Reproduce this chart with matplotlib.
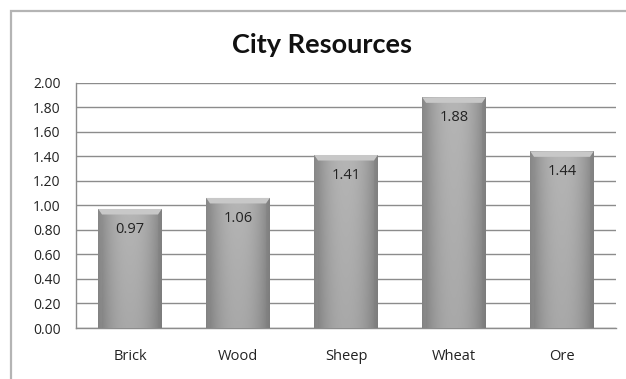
import numpy as np
import matplotlib
matplotlib.use("Agg")
import matplotlib.pyplot as plt
from matplotlib.patches import Rectangle, Polygon

categories = ["Brick", "Wood", "Sheep", "Wheat", "Ore"]
values = [0.97, 1.06, 1.41, 1.88, 1.44]
yticks = [0.00, 0.20, 0.40, 0.60, 0.80, 1.00, 1.20, 1.40, 1.60, 1.80, 2.00]
title = "City Resources"

W, H = 626, 379
fig = plt.figure(figsize=(W / 100, H / 100), dpi=100)
fig.patch.set_facecolor("white")

# chart frame (runs off the right and bottom edge)
frame = Rectangle((11 / W, -0.05), 1.0, (H - 11) / H + 0.05, transform=fig.transFigure,
                  fill=False, edgecolor="#b4b4b4", linewidth=1.6)
fig.patches.append(frame)

left, right = 76 / W, 616 / W
bottom, top = 1 - 328 / H, 1 - 82.6 / H
ax = fig.add_axes([left, bottom, right - left, top - bottom])
ax.set_xlim(-0.5, len(categories) - 0.5)
ax.set_ylim(0, 2.0)

for s in ["top", "right"]:
    ax.spines[s].set_visible(False)
ax.spines["left"].set_color("#8c8c8c")
ax.spines["bottom"].set_color("#8c8c8c")
ax.spines["left"].set_linewidth(1.0)
ax.spines["bottom"].set_linewidth(1.0)

ax.set_yticks(yticks)
ax.set_yticklabels([f"{v:.2f}" for v in yticks], fontsize=10, color="#222222",
                   family="Open Sans")
ax.set_xticks(range(len(categories)))
ax.set_xticklabels(categories, fontsize=10.5, color="#222222", family="Open Sans")
ax.tick_params(axis="both", length=0)
ax.tick_params(axis="y", pad=11)
ax.tick_params(axis="x", pad=15)
ax.yaxis.grid(True, color="#8c8c8c", linewidth=1.0)
ax.set_axisbelow(True)

# bar shading: dark edges, light centre, slightly darker toward the base
nx, ny = 64, 200
xs = np.linspace(-1, 1, nx)
horiz = 1 - 0.28 * np.abs(xs) ** 2.2
ys = np.linspace(0, 1, ny)[:, None]
vert = 0.93 + 0.07 * ys
shade = np.clip((0.71 * horiz[None, :]) * vert, 0, 1)
img = np.dstack([shade, shade, shade])

bar_w = 0.59
bars = ax.bar(range(len(categories)), values, width=bar_w, color="#a6a6a6",
              edgecolor="none", zorder=2)
for b, v in zip(bars, values):
    x0 = b.get_x()
    im = ax.imshow(img, extent=[x0, x0 + bar_w, 0, v], origin="lower",
                   aspect="auto", zorder=3, interpolation="bicubic")
    im.set_clip_path(b)
    # bevelled top edge
    bev_h = 0.045
    bev_x = 0.035
    ax.add_patch(Polygon([[x0, v], [x0 + bar_w, v], [x0 + bar_w - bev_x, v - bev_h],
                          [x0 + bev_x, v - bev_h]], closed=True,
                         facecolor="#c8c8c8", edgecolor="none", zorder=4))
    ax.add_patch(Polygon([[x0, v], [x0 + bev_x, v - bev_h], [x0 + bev_x, 0],
                          [x0, 0]], closed=True,
                         facecolor="#909090", edgecolor="none", alpha=0.45, zorder=4))
    ax.add_patch(Polygon([[x0 + bar_w, v], [x0 + bar_w - bev_x, v - bev_h],
                          [x0 + bar_w - bev_x, 0], [x0 + bar_w, 0]], closed=True,
                         facecolor="#808080", edgecolor="none", alpha=0.45, zorder=4))
    ax.text(b.get_x() + bar_w / 2, v - 0.165, f"{v:.2f}", ha="center", va="center",
            fontsize=10.5, color="#222222", family="Open Sans", zorder=5)

ax.set_xlim(-0.5, len(categories) - 0.5)
ax.set_ylim(0, 2.0)

fig.text(0.515, 1 - 45 / H, title, ha="center", va="center", fontsize=19.5,
         fontweight="bold", family="Lato", color="#111111")

fig.savefig("out.png", dpi=100)
